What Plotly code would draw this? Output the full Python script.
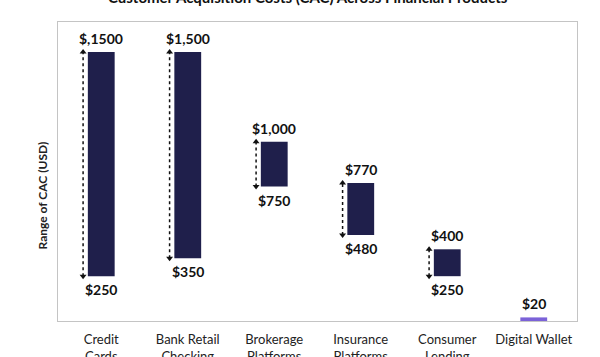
import plotly.graph_objects as go

categories = ["Credit<br>Cards", "Bank Retail<br>Checking", "Brokerage<br>Platforms",
              "Insurance<br>Platforms", "Consumer<br>Lending", "Digital Wallet"]
low_values = [250, 350, 750, 480, 250, 0]
high_values = [1500, 1500, 1000, 770, 400, 20]
top_labels = ["$,1500", "$1,500", "$1,000", "$770", "$400", "$20"]
bottom_labels = ["$250", "$350", "$750", "$480", "$250", ""]
bar_colors = ["#1f1f4b", "#1f1f4b", "#1f1f4b", "#1f1f4b", "#1f1f4b", "#7b62d8"]
show_arrow = [True, True, True, True, True, False]

FONT = "Lato"
BAR_W = 0.31
xs = list(range(len(categories)))

fig = go.Figure()
fig.add_trace(go.Bar(
    x=xs,
    y=[h - l for h, l in zip(high_values, low_values)],
    base=low_values,
    width=BAR_W,
    marker=dict(color=bar_colors, line=dict(width=0)),
    hoverinfo="skip",
    showlegend=False,
))

for i, (lo, hi, arr) in enumerate(zip(low_values, high_values, show_arrow)):
    if not arr:
        continue
    ax = i - BAR_W / 2 - 0.055
    fig.add_trace(go.Scatter(
        x=[ax, ax], y=[lo, hi], mode="lines",
        line=dict(color="#111111", width=1.5, dash="dot"),
        hoverinfo="skip", showlegend=False,
    ))
    fig.add_trace(go.Scatter(
        x=[ax, ax], y=[lo, hi], mode="markers",
        marker=dict(symbol=["triangle-down", "triangle-up"], size=6, color="#111111"),
        hoverinfo="skip", showlegend=False,
    ))

annotations = []
for i, (lo, hi, t, b) in enumerate(zip(low_values, high_values, top_labels, bottom_labels)):
    annotations.append(dict(x=i, y=hi, text=f"<b>{t}</b>", showarrow=False,
                            yanchor="bottom", yshift=3,
                            font=dict(family=FONT, size=14, color="#111111")))
    if b:
        annotations.append(dict(x=i, y=lo, text=f"<b>{b}</b>", showarrow=False,
                                yanchor="top", yshift=-3,
                                font=dict(family=FONT, size=14, color="#111111")))

annotations.append(dict(xref="paper", yref="paper", x=0, y=0.42, xshift=-16,
                        text="<b>Range of CAC (USD)</b>", textangle=-90, showarrow=False,
                        xanchor="center", yanchor="middle",
                        font=dict(family=FONT, size=12, color="#222222")))
annotations.append(dict(xref="paper", yref="paper", x=0.5, y=1, yshift=25, xshift=-10,
                        text="<b>Customer Acquisition Costs (CAC) Across Financial Products</b>",
                        showarrow=False, xanchor="center", yanchor="middle",
                        font=dict(family=FONT, size=15, color="#111111")))

fig.update_layout(
    width=600, height=357,
    margin=dict(l=58, r=23, t=22, b=36, autoexpand=False),
    paper_bgcolor="white", plot_bgcolor="white",
    annotations=annotations,
    font=dict(family=FONT, color="#222222"),
)
fig.update_xaxes(
    range=[-0.5, len(categories) - 0.5],
    tickmode="array", tickvals=xs, ticktext=categories,
    tickfont=dict(family=FONT, size=13, color="#222222"),
    showgrid=False, zeroline=False, automargin=False,
    showline=True, mirror=True, linecolor="#c4c4c4", linewidth=1,
    ticks="", ticklabelstandoff=6,
)
fig.update_yaxes(
    range=[0, 1668], automargin=False,
    showticklabels=False, showgrid=False, zeroline=False,
    showline=True, mirror=True, linecolor="#c4c4c4", linewidth=1,
    ticks="",
)

fig.write_html("out.html", config={"displayModeBar": False},
               post_script="document.body.style.margin='0';document.body.style.overflow='hidden';")
